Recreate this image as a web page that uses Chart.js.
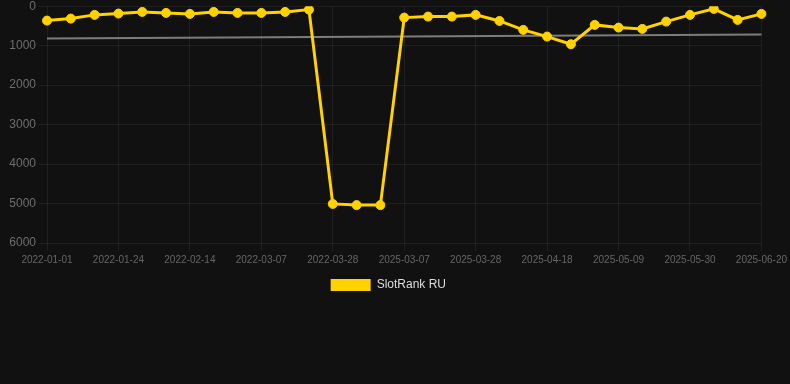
<!DOCTYPE html>
<html>
<head>
<meta charset="utf-8">
<script src="https://cdn.jsdelivr.net/npm/chart.js@4/dist/chart.umd.min.js"></script>
<style>
    html, body { margin: 0; padding: 0; background: #111111; overflow: hidden; }
    #wrap { position: relative; width: 790px; height: 305px; margin-top: -4px; }
</style>
</head>
<body>
<div id="wrap"><canvas id="rankChart"></canvas></div>
<script>
const dates = [
    '2022-01-01', '2022-01-10', '2022-01-17', '2022-01-24', '2022-01-31', '2022-02-07',
    '2022-02-14', '2022-02-21', '2022-02-28', '2022-03-07', '2022-03-14', '2022-03-21',
    '2022-03-28', '2022-04-04', '2022-04-11', '2025-03-07', '2025-03-14', '2025-03-21',
    '2025-03-28', '2025-04-04', '2025-04-11', '2025-04-18', '2025-04-25', '2025-05-02',
    '2025-05-09', '2025-05-16', '2025-05-23', '2025-05-30', '2025-06-06', '2025-06-13',
    '2025-06-20'
]
const rankRU = [
    365, 314, 220, 187, 145, 170, 195, 145, 170, 170, 145, 86,
    5010, 5040, 5040, 289, 263, 263, 220, 373, 600, 770, 963, 474,
    542, 575, 390, 220, 68, 347, 195
]
// trend: only the two ends, the line spans the gap
const trend = dates.map(() => null)
trend[0] = 820
trend[trend.length - 1] = 720

const gridColour = 'rgba(255,255,255,0.06)'
const ctx = document.getElementById('rankChart');

const rankChart = new Chart(ctx, {
    type: 'line',
    data: {
        labels: dates,
        datasets: [
            {
                label: 'SlotRank RU',
                data: rankRU,
                borderColor: '#ffd200',
                backgroundColor: '#ffd200',
                borderWidth: 3,
                pointRadius: 4.5,
                pointBorderWidth: 1,
                pointHoverRadius: 4.5,
                tension: 0
            },
            {
                label: 'trend',
                data: trend,
                borderColor: 'rgba(160,160,160,0.75)',
                borderWidth: 2,
                pointRadius: 0,
                spanGaps: true
            }
        ]
    },
    options: {
        responsive: true,
        maintainAspectRatio: false,
        animation: false,
        plugins: {
            legend: {
                position: 'bottom',
                labels: {
                    color: '#dddddd',
                    boxWidth: 40,
                    boxHeight: 12,
                    font: { size: 12, family: 'Liberation Sans, Arial, sans-serif' },
                    filter: (item) => item.text !== 'trend',
                    // trailing spaces nudge the centred item a little to the left, as in the original
                    generateLabels: (chart) => Chart.defaults.plugins.legend.labels.generateLabels(chart)
                        .map((item) => Object.assign(item, { lineWidth: 0, text: item.text === 'trend' ? item.text : item.text + '    ' }))
                }
            },
            tooltip: { enabled: false }
        },
        scales: {
            x: {
                grid: { color: gridColour },
                border: { display: false },
                ticks: {
                    color: '#666666',
                    font: { size: 10, family: 'Liberation Sans, Arial, sans-serif' },
                    maxRotation: 0,
                    autoSkip: false,
                    callback: function (value, idx) {
                        return idx % 3 === 0 ? this.getLabelForValue(value) : null
                    }
                }
            },
            y: {
                reverse: true,
                min: 0,
                max: 6000,
                afterFit: (axis) => { axis.width = 47 },
                grid: { color: gridColour },
                border: { display: false },
                ticks: {
                    color: '#6e6e6e',
                    stepSize: 1000,
                    font: { size: 12, family: 'Liberation Sans, Arial, sans-serif' },
                    callback: (value) => String(value)
                }
            }
        }
    }
});
</script>
</body>
</html>
